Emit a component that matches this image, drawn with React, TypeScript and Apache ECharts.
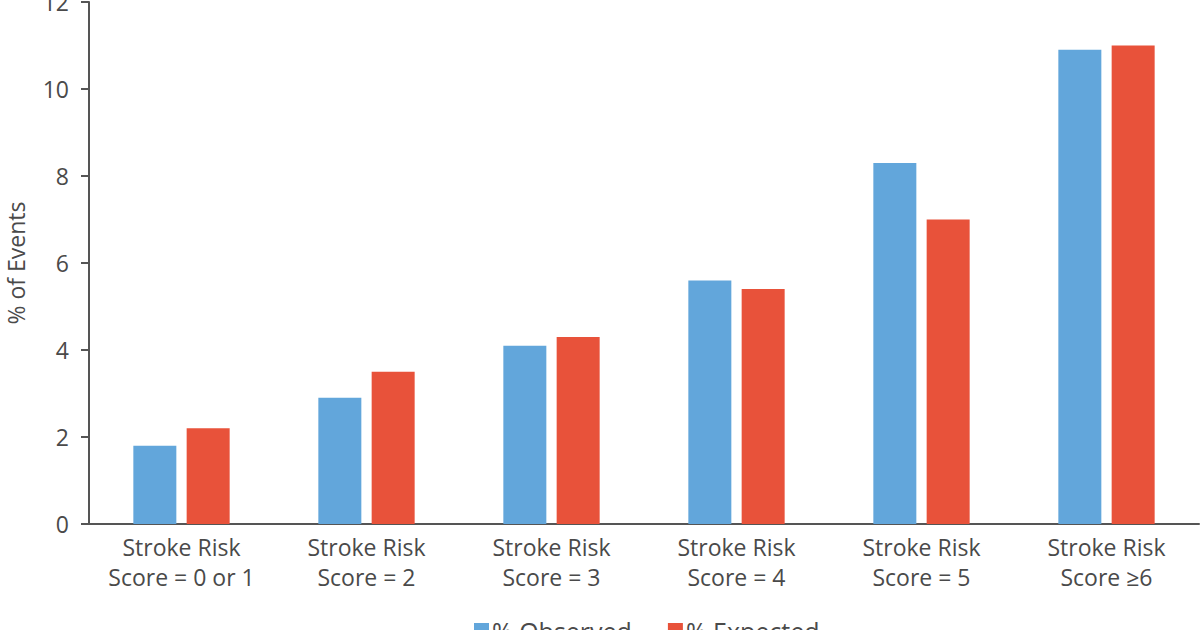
import React, { useEffect, useRef } from "react";
import * as echarts from "echarts";

const categories = [
  "Stroke Risk\nScore = 0 or 1",
  "Stroke Risk\nScore = 2",
  "Stroke Risk\nScore = 3",
  "Stroke Risk\nScore = 4",
  "Stroke Risk\nScore = 5",
  "Stroke Risk\nScore \u22656",
];
const observed = [1.8, 2.9, 4.1, 5.6, 8.3, 10.9];
const expected = [2.2, 3.5, 4.3, 5.4, 7.0, 11.0];
const yTicks = { min: 0, max: 12, interval: 2 };

const FONT = "'Open Sans', 'Noto Sans', sans-serif";
const TEXT = "#4a4a4a";

export default function App() {
  const ref = useRef<HTMLDivElement>(null);
  useEffect(() => {
    if (!ref.current) return;
    const chart = echarts.init(ref.current, undefined, { renderer: "svg" });
    chart.setOption({
      animation: false,
      backgroundColor: "#ffffff",
      textStyle: { fontFamily: FONT },
      grid: {
        left: 89,
        right: 1,
        top: 2,
        bottom: 106,
        containLabel: false,
        outerBoundsMode: "none",
      },
      legend: {
        left: 469,
        top: 613,
        itemWidth: 15,
        itemHeight: 15,
        itemGap: 36,
        icon: "rect",
        textStyle: { fontSize: 25, color: TEXT, fontFamily: FONT, padding: [0, 0, 0, -2] },
        data: ["% Observed", "% Expected"],
      },
      xAxis: {
        type: "category",
        data: categories,
        axisLine: { lineStyle: { color: "#555555", width: 2 } },
        axisTick: { show: false },
        axisLabel: {
          fontSize: 23,
          color: TEXT,
          lineHeight: 30,
          margin: 8,
          fontFamily: FONT,
          interval: 0,
        },
      },
      yAxis: {
        type: "value",
        min: yTicks.min,
        max: yTicks.max,
        interval: yTicks.interval,
        name: "% of Events",
        nameLocation: "middle",
        nameGap: 62,
        nameTextStyle: { fontSize: 23, color: TEXT, fontFamily: FONT },
        splitLine: { show: false },
        axisLine: { show: true, lineStyle: { color: "#555555", width: 2 } },
        axisTick: { show: true, length: 8, lineStyle: { color: "#555555", width: 2 } },
        axisLabel: { fontSize: 23, color: TEXT, margin: 20, fontFamily: FONT },
      },
      series: [
        {
          name: "% Observed",
          type: "bar",
          data: observed,
          barWidth: 43,
          barGap: "24%",
          itemStyle: { color: "#62a6db" },
        },
        {
          name: "% Expected",
          type: "bar",
          data: expected,
          barWidth: 43,
          barGap: "24%",
          itemStyle: { color: "#e8523a" },
        },
      ],
    });
    return () => chart.dispose();
  }, []);
  return (
    <div
      ref={ref}
      style={{ position: "fixed", left: 0, top: 0, width: 1200, height: 630 }}
    />
  );
}
